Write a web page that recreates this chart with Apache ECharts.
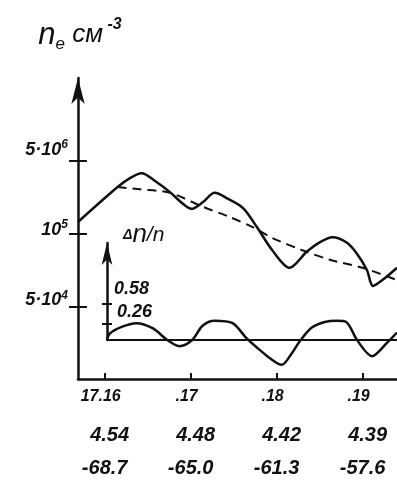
<!DOCTYPE html>
<html>
<head>
<meta charset="utf-8">
<script src="https://cdn.jsdelivr.net/npm/echarts@6/dist/echarts.min.js"></script>
<style>
  html, body { margin: 0; padding: 0; background: #fff; }
  #chart { width: 397px; height: 486px; }
</style>
</head>
<body>
<div id="chart"></div>
<script>
// tick positions and the three rows of labels under the x axis
const xTicks = [17.16, 17.17, 17.18, 17.19];
const xRow1 = ['17.16', '.17', '.18', '.19'];
const xRow2 = ['4.54', '4.48', '4.42', '4.39'];
const xRow3 = ['-68.7', '-65.0', '-61.3', '-57.6'];

// n_e axis: equally spaced marks
const neTicks = [1, 2, 3];
const neMant = ['5·10', '10', '5·10'];
const neExp = ['4', '5', '6'];

// Δn/n axis marks
const dnTicks = [0.26, 0.58];

// solid n_e curve
const solidX = [17.1569, 17.1615, 17.1629, 17.1643, 17.1659, 17.1676, 17.1690, 17.1701, 17.1714, 17.1728, 17.1743, 17.1761,
  17.1777, 17.1795, 17.1815, 17.1835, 17.1850, 17.1865, 17.1881, 17.1893, 17.1905, 17.1912, 17.1923, 17.1940];
const solidY = [2.16, 2.64, 2.76, 2.83, 2.72, 2.57, 2.42, 2.34, 2.43, 2.56, 2.48, 2.35,
  2.09, 1.77, 1.53, 1.75, 1.88, 1.95, 1.88, 1.73, 1.50, 1.28, 1.36, 1.53];

// dashed (mean) curve
const dashX = [17.1615, 17.1641, 17.1676, 17.1714, 17.1745, 17.1772, 17.1795, 17.1830, 17.1862, 17.1900, 17.1940];
const dashY = [2.64, 2.61, 2.56, 2.37, 2.23, 2.09, 1.94, 1.77, 1.64, 1.53, 1.36];

// Δn/n curve
const dnX = [17.1603, 17.1606, 17.1620, 17.1637, 17.1656, 17.1673, 17.1687, 17.1702, 17.1714, 17.1728, 17.1749, 17.1765,
  17.1778, 17.1792, 17.1806, 17.1817, 17.1827, 17.1841, 17.1856, 17.1870, 17.1881, 17.1894, 17.1911, 17.1928, 17.1940];
const dnY = [0, 0.10, 0.21, 0.27, 0.19, 0, -0.10, 0, 0.23, 0.31, 0.27, 0.03,
  -0.13, -0.29, -0.40, -0.23, -0.02, 0.20, 0.29, 0.31, 0.29, -0.01, -0.26, -0.05, 0.12];

const ink = '#111';
const ff = '"Liberation Sans", sans-serif';
const hand = { fontFamily: ff, fontStyle: 'italic', fontWeight: 'bold', color: ink };

function zip(xs, ys) { return xs.map((x, i) => [x, ys[i]]); }
function idxOf(arr, v) { return arr.findIndex(a => Math.abs(a - v) < 1e-6); }

const neShift = ['g6', 'g4', 'g11'];

var myChart = echarts.init(document.getElementById('chart'));
var option = {
  animation: false,
  backgroundColor: '#fff',
  grid: [
    { left: 78, right: 0, top: 78, bottom: 107 },
    { left: 107, right: 0, top: 243, bottom: 146 }
  ],
  xAxis: [
    {
      gridIndex: 0, type: 'value', min: 17.1569, max: 17.194,
      axisLine: { lineStyle: { color: ink, width: 2.5 } },
      axisTick: { inside: true, length: 6, customValues: xTicks, lineStyle: { color: ink, width: 2 } },
      splitLine: { show: false },
      axisLabel: {
        customValues: xTicks, margin: 0, showMinLabel: true, showMaxLabel: true,
        formatter: function (v) {
          const i = idxOf(xTicks, v);
          return '{a|' + xRow1[i] + '}\n{b|' + xRow2[i] + '}\n{c|' + xRow3[i] + '}';
        },
        rich: {
          a: Object.assign({ fontSize: 16, lineHeight: 36, align: 'center', padding: [0, 8, 0, 0] }, hand),
          b: Object.assign({ fontSize: 20, lineHeight: 40, align: 'center', padding: [0, 0, 0, 10] }, hand),
          c: Object.assign({ fontSize: 20, lineHeight: 26, align: 'center' }, hand)
        }
      }
    },
    {
      gridIndex: 1, type: 'value', min: 17.1603, max: 17.194,
      axisLine: { lineStyle: { color: ink, width: 2 } },
      axisTick: { show: false }, axisLabel: { show: false }, splitLine: { show: false }
    }
  ],
  yAxis: [
    {
      gridIndex: 0, type: 'value', position: 'left', min: 0, max: 4.14,
      axisLine: { show: true, symbol: ['none', 'arrow'], symbolSize: [10, 26], lineStyle: { color: ink, width: 2.5 } },
      axisTick: { length: 9, customValues: neTicks, lineStyle: { color: ink, width: 2 } },
      splitLine: { show: false },
      axisLabel: {
        customValues: neTicks, margin: 10, hideOverlap: false, showMinLabel: true, showMaxLabel: true,
        formatter: function (v) {
          const i = idxOf(neTicks, v);
          return '{m|' + neMant[i] + '}{e|' + neExp[i] + '}\n{' + neShift[i] + '| }';
        },
        rich: {
          m: Object.assign({ fontSize: 18, lineHeight: 22 }, hand),
          e: Object.assign({ fontSize: 12, lineHeight: 12, verticalAlign: 'top' }, hand),
          g4: { fontSize: 1, lineHeight: 8 },
          g6: { fontSize: 1, lineHeight: 12 },
          g11: { fontSize: 1, lineHeight: 22 }
        }
      },
      name: '{n|n}{e|e}{u| см}{s| -3}',
      nameLocation: 'end', nameGap: 43,
      nameTextStyle: {
        align: 'center', verticalAlign: 'middle', padding: [0, 0, 0, 4],
        rich: {
          n: { fontFamily: ff, fontStyle: 'italic', fontSize: 31, lineHeight: 36, color: ink },
          e: { fontFamily: ff, fontStyle: 'italic', fontSize: 17, lineHeight: 16, verticalAlign: 'bottom', color: ink },
          u: { fontFamily: ff, fontStyle: 'italic', fontSize: 26, lineHeight: 32, color: ink },
          s: { fontFamily: ff, fontStyle: 'italic', fontWeight: 'bold', fontSize: 16, lineHeight: 14, verticalAlign: 'top', color: ink }
        }
      }
    },
    {
      gridIndex: 0, type: 'value', position: 'left', offset: 0, min: 0, max: 4.14,
      axisLine: { show: false },
      axisTick: { inside: true, length: 9, customValues: neTicks, lineStyle: { color: ink, width: 2 } },
      axisLabel: { show: false }, splitLine: { show: false }
    },
    {
      // Δn/n axis: arrow, outer half of the marks, upper label
      gridIndex: 1, type: 'value', position: 'left', min: 0, max: 1.56,
      axisLine: { show: true, symbol: ['none', 'arrow'], symbolSize: [8, 22], lineStyle: { color: ink, width: 2.5 } },
      axisTick: { length: 5, customValues: dnTicks, lineStyle: { color: ink, width: 2 } },
      splitLine: { show: false },
      axisLabel: {
        customValues: [dnTicks[1]], inside: true, margin: 7, verticalAlign: 'bottom',
        formatter: function (v) { return '{m|' + v.toFixed(2) + '}'; },
        rich: { m: Object.assign({ fontSize: 18, lineHeight: 16, padding: [0, 0, 13, 0] }, hand) }
      },
      name: '{d|Δ}{n|n}{s|/n}',
      nameLocation: 'end', nameGap: 8,
      nameTextStyle: {
        align: 'left', verticalAlign: 'middle', padding: [0, 0, 0, 16],
        rich: {
          d: { fontFamily: ff, fontStyle: 'italic', fontWeight: 'bold', fontSize: 14, color: ink },
          n: { fontFamily: ff, fontStyle: 'italic', fontSize: 26, color: ink },
          s: { fontFamily: ff, fontStyle: 'italic', fontSize: 21, color: ink }
        }
      }
    },
    {
      // Δn/n axis: inner half of the marks, lower label
      gridIndex: 1, type: 'value', position: 'left', offset: 0, min: 0, max: 1.56,
      axisLine: { show: false },
      axisTick: { inside: true, length: 5, customValues: dnTicks, lineStyle: { color: ink, width: 2 } },
      axisLabel: {
        customValues: [dnTicks[0]], inside: true, margin: 10, verticalAlign: 'bottom',
        formatter: function (v) { return '{m|' + v.toFixed(2) + '}'; },
        rich: { m: Object.assign({ fontSize: 18, lineHeight: 16, padding: [0, 0, 8, 0] }, hand) }
      },
      splitLine: { show: false }
    }
  ],
  series: [
    {
      type: 'line', xAxisIndex: 0, yAxisIndex: 0, data: zip(solidX, solidY),
      symbol: 'none', smooth: 0.3, lineStyle: { color: ink, width: 2.5 }
    },
    {
      type: 'line', xAxisIndex: 0, yAxisIndex: 0, data: zip(dashX, dashY),
      symbol: 'none', smooth: 0.3, lineStyle: { color: ink, width: 2, type: [9, 6] }
    },
    {
      type: 'line', xAxisIndex: 1, yAxisIndex: 2, data: zip(dnX, dnY), clip: false,
      symbol: 'none', smooth: 0.3, lineStyle: { color: ink, width: 2.5 }
    }
  ]
};
myChart.setOption(option);
window.addEventListener('resize', () => {
  myChart.resize()
})
</script>
</body>
</html>
